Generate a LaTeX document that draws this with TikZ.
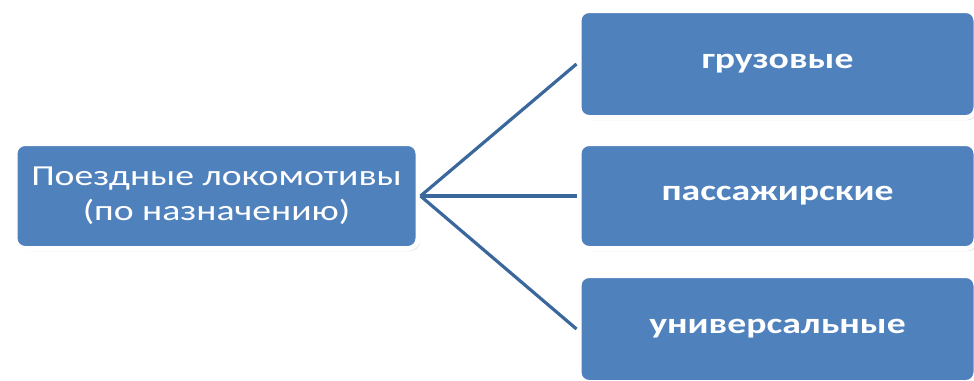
\documentclass[tikz,border=0pt]{standalone}
\usepackage{fontspec}
\setmainfont{Carlito}[FakeStretch=1.3]
\usetikzlibrary{shadows}
\definecolor{boxblue}{HTML}{4F81BD}
\definecolor{lineblue}{HTML}{3A679C}
\tikzset{
  box/.style={rounded corners=10pt, fill=boxblue, draw=white, line width=5pt,
    text=white, align=center, inner sep=0pt,
    drop shadow={shadow xshift=2pt, shadow yshift=-2.5pt, opacity=0.3, fill=black!55}},
  conn/.style={draw=lineblue, line width=3.2pt},
}
\begin{document}
\begin{tikzpicture}[x=1pt,y=-1pt]
\useasboundingbox (0,0) rectangle (974,380);
\clip (0,0) rectangle (974,380);
\node[box, minimum width=403pt, minimum height=105pt, font=\fontsize{29}{35}\selectfont] (src) at (216.5,196) {Поездные локомотивы\\(по назначению)};
\node[box, minimum width=397pt, minimum height=107pt, font=\fontsize{29}{35}\selectfont\bfseries] (a) at (777.5,64) {грузовые};
\node[box, minimum width=397pt, minimum height=105pt, font=\fontsize{29}{35}\selectfont\bfseries] (b) at (777.5,196) {пассажирские};
\node[box, minimum width=397pt, minimum height=107pt, font=\fontsize{29}{35}\selectfont\bfseries] (c) at (777.5,329) {универсальные};
\draw[conn] (src.east) -- (a.west);
\draw[conn] (src.east) -- (b.west);
\draw[conn] (src.east) -- (c.west);
\end{tikzpicture}
\end{document}
